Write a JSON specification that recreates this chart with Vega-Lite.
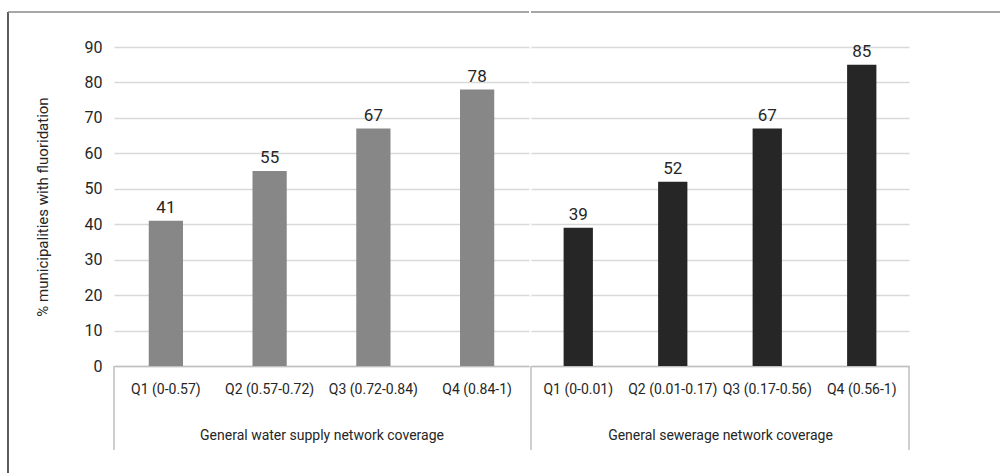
{
  "$schema": "https://vega.github.io/schema/vega-lite/v6.json",
  "background": "white",
  "padding": {"left": 7, "top": 11, "right": 0, "bottom": 0},
  "spacing": 0,
  "config": {
    "font": "Roboto",
    "view": {"stroke": null},
    "concat": {"spacing": 0},
    "axis": {"labelFont": "Roboto", "titleFont": "Roboto", "labelColor": "#262626", "titleColor": "#262626", "titleFontWeight": "normal"}
  },
  "datasets": {
    "fluor": [
      {"group": "General water supply network coverage", "quartile": "Q1 (0-0.57)", "pct": 41},
      {"group": "General water supply network coverage", "quartile": "Q2 (0.57-0.72)", "pct": 55},
      {"group": "General water supply network coverage", "quartile": "Q3 (0.72-0.84)", "pct": 67},
      {"group": "General water supply network coverage", "quartile": "Q4 (0.84-1)", "pct": 78},
      {"group": "General sewerage network coverage", "quartile": "Q1 (0-0.01)", "pct": 39},
      {"group": "General sewerage network coverage", "quartile": "Q2 (0.01-0.17)", "pct": 52},
      {"group": "General sewerage network coverage", "quartile": "Q3 (0.17-0.56)", "pct": 67},
      {"group": "General sewerage network coverage", "quartile": "Q4 (0.56-1)", "pct": 85}
    ]
  },
  "hconcat": [
    {
      "width": 415,
      "height": 319,
      "data": {"name": "fluor"},
      "transform": [{"filter": "datum.group === 'General water supply network coverage'"}],
      "encoding": {
        "x": {
          "field": "quartile", "type": "nominal", "sort": null,
          "scale": {"paddingInner": 0, "paddingOuter": 0},
          "axis": {
            "title": "General water supply network coverage",
            "labelAngle": 0, "labelPadding": 16, "labelFontSize": 14,
            "domainColor": "#bfbfbf", "domainWidth": 1.5,
            "ticks": false, "titleFontSize": 14, "titlePadding": 32
          }
        },
        "y": {
          "field": "pct", "type": "quantitative",
          "scale": {"domain": [0, 90]},
          "axis": {
            "title": "% municipalities with fluoridation",
            "values": [0, 10, 20, 30, 40, 50, 60, 70, 80, 90],
            "domain": false, "ticks": false, "labelPadding": 12, "labelFontSize": 16,
            "gridColor": "#d9d9d9", "gridWidth": 1.5, "titlePadding": 34, "titleFontSize": 15
          }
        }
      },
      "layer": [
        {"mark": {"type": "bar", "color": "#878787", "width": {"band": 0.33}}},
        {"mark": {"type": "text", "baseline": "bottom", "dy": -4, "fontSize": 17, "color": "#262626"}, "encoding": {"text": {"field": "pct", "type": "quantitative"}}},
        {
          "transform": [{"filter": "datum.quartile === 'Q1 (0-0.57)'"}],
          "mark": {"type": "rule", "color": "#bfbfbf", "strokeWidth": 1.5},
          "encoding": {
            "x": {"field": "quartile", "type": "nominal", "sort": null, "bandPosition": 0},
            "y": {"datum": 0},
            "y2": {"datum": -23.7}
          }
        },
        {
          "transform": [{"filter": "datum.quartile === 'Q1 (0-0.57)'"}],
          "mark": {"type": "rule", "color": "#262626", "strokeWidth": 1.5},
          "encoding": {
            "x": {"field": "quartile", "type": "nominal", "sort": null, "bandPosition": -1.0217},
            "y": {"datum": 99.87},
            "y2": {"datum": -30.2}
          }
        },
        {
          "transform": [{"filter": "datum.quartile === 'Q1 (0-0.57)'"}],
          "mark": {"type": "rule", "color": "#8a8a8a", "strokeWidth": 1.5},
          "encoding": {
            "x": {"field": "quartile", "type": "nominal", "sort": null, "bandPosition": -1.0217},
            "x2": {"field": "quartile", "bandPosition": 4},
            "y": {"datum": 99.87},
            "y2": {"datum": 99.87}
          }
        }
      ]
    },
    {
      "width": 378,
      "height": 319,
      "data": {"name": "fluor"},
      "transform": [{"filter": "datum.group === 'General sewerage network coverage'"}],
      "encoding": {
        "x": {
          "field": "quartile", "type": "nominal", "sort": null,
          "scale": {"paddingInner": 0, "paddingOuter": 0},
          "axis": {
            "title": "General sewerage network coverage",
            "labelAngle": 0, "labelPadding": 16, "labelFontSize": 14,
            "domainColor": "#bfbfbf", "domainWidth": 1.5,
            "ticks": false, "titleFontSize": 14, "titlePadding": 32
          }
        },
        "y": {
          "field": "pct", "type": "quantitative",
          "scale": {"domain": [0, 90]},
          "axis": {
            "title": null, "labels": false,
            "values": [0, 10, 20, 30, 40, 50, 60, 70, 80, 90],
            "domain": false, "ticks": false,
            "gridColor": "#d9d9d9", "gridWidth": 1.5
          }
        }
      },
      "layer": [
        {"mark": {"type": "bar", "color": "#262626", "width": {"band": 0.31}}},
        {"mark": {"type": "text", "baseline": "bottom", "dy": -4, "fontSize": 17, "color": "#262626"}, "encoding": {"text": {"field": "pct", "type": "quantitative"}}},
        {
          "transform": [{"filter": "datum.quartile === 'Q1 (0-0.01)'"}],
          "mark": {"type": "rule", "color": "#bfbfbf", "strokeWidth": 1.5},
          "encoding": {
            "x": {"field": "quartile", "type": "nominal", "sort": null, "bandPosition": 0},
            "y": {"datum": 0},
            "y2": {"datum": -23.7}
          }
        },
        {
          "transform": [{"filter": "datum.quartile === 'Q4 (0.56-1)'"}],
          "mark": {"type": "rule", "color": "#bfbfbf", "strokeWidth": 1.5},
          "encoding": {
            "x": {"field": "quartile", "type": "nominal", "sort": null, "bandPosition": 1},
            "y": {"datum": 0},
            "y2": {"datum": -23.7}
          }
        },
        {
          "transform": [{"filter": "datum.quartile === 'Q1 (0-0.01)'"}],
          "mark": {"type": "rule", "color": "#8a8a8a", "strokeWidth": 1.5},
          "encoding": {
            "x": {"field": "quartile", "type": "nominal", "sort": null, "bandPosition": 0},
            "x2": {"field": "quartile", "bandPosition": 4.97},
            "y": {"datum": 99.87},
            "y2": {"datum": 99.87}
          }
        }
      ]
    }
  ]
}
